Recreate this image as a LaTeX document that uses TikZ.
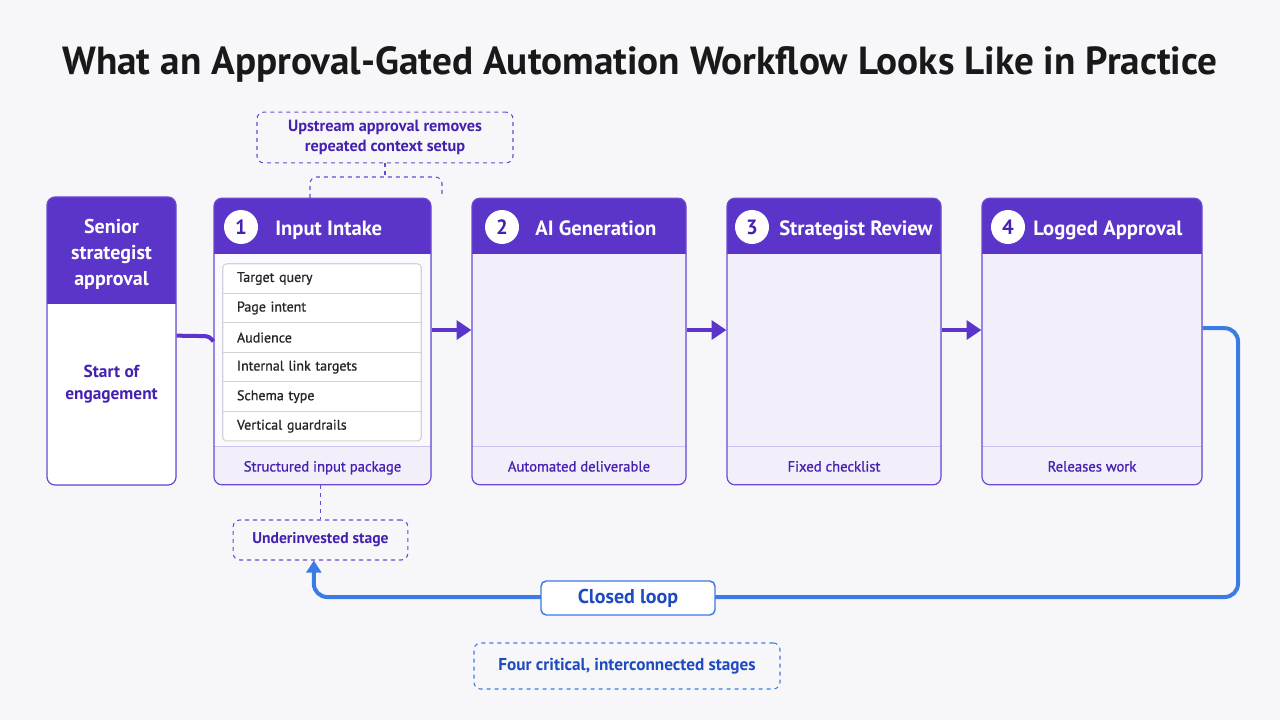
\documentclass[tikz,border=0pt]{standalone}
\usepackage{fontspec}
\setmainfont{PT Sans}
\newfontfamily\medfont[FakeBold=0.9]{PT Sans}
\usepackage{tikz}
\usetikzlibrary{arrows.meta, positioning, fit, backgrounds}

\definecolor{bgc}{HTML}{F7F7FA}
\definecolor{purp}{HTML}{5B34C9}
\definecolor{purpdk}{HTML}{4521B0}
\definecolor{purpln}{HTML}{6B48D2}
\definecolor{lav}{HTML}{F2EFFB}
\definecolor{lavln}{HTML}{CDC2F0}
\definecolor{loopblue}{HTML}{3A7BE5}
\definecolor{bluedk}{HTML}{1E4BC2}
\definecolor{rowln}{HTML}{D2D2DA}

\begin{document}
\begin{tikzpicture}[
    x=0.75pt, y=-0.75pt,
    >=Stealth,
    font=\fontsize{11}{13}\selectfont,
    ttl/.style={font=\bfseries\fontsize{29.4}{32}\selectfont, text=black!90},
    stagebox/.style 2 args={rectangle, rounded corners=6pt, draw=purpln,
              line width=0.9pt, fill=purp, inner sep=0pt, minimum height=215pt,
              path picture={
                \fill[#2, sharp corners] ([yshift=-#1]path picture bounding box.north west)
                    rectangle ([yshift=28.5pt]path picture bounding box.south east);
                \fill[lav, sharp corners] ([yshift=28.5pt]path picture bounding box.south west)
                    rectangle (path picture bounding box.south east);
                \draw[lavln, line width=0.8pt]
                    ([yshift=28.5pt]path picture bounding box.south west)
                    -- ([yshift=28.5pt]path picture bounding box.south east);}},
    senbox/.style={rectangle, rounded corners=6pt, draw=purpln,
              line width=0.9pt, fill=purp, inner sep=0pt,
              minimum width=96.75pt, minimum height=216pt,
              path picture={
                \fill[white, sharp corners] ([yshift=-80pt]path picture bounding box.north west)
                    rectangle (path picture bounding box.south east);}},
    num/.style={circle, fill=white, minimum size=25.5pt, inner sep=0pt,
              font=\bfseries\fontsize{15.5}{15.5}\selectfont, text=purpdk},
    hdr/.style={anchor=base west, inner sep=0pt, text=white,
              font=\bfseries\fontsize{15.5}{17}\selectfont},
    foot/.style={anchor=base, inner sep=0pt, text=purpdk,
              font=\medfont\fontsize{11}{13}\selectfont},
    row/.style={rectangle, fill=white, minimum height=21.75pt, inner xsep=10.5pt,
              inner ysep=0pt, text width=127.5pt, align=left, text=black!85,
              font=\medfont\fontsize{10.5}{12}\selectfont},
    note/.style={rectangle, rounded corners=5pt, draw=purpln, dashed,
              line width=0.8pt, align=center, text=purpdk,
              font=\bfseries\fontsize{12.2}{15}\selectfont},
    flow/.style={-{Triangle[length=11pt,width=14pt]}, draw=purp, line width=3pt},
    dashlink/.style={draw=purpln, dashed, line width=0.8pt},
    loopln/.style={-{Triangle[length=9pt,width=11pt]}, draw=loopblue,
              line width=3pt, rounded corners=10pt},
]
    % canvas
    \fill[bgc] (0,0) rectangle (1280,720);
    \useasboundingbox (0,0) rectangle (1280,720);

    % Title
    \node[ttl] (title) at (640,64)
        {What an Approval-Gated Automation Workflow Looks Like in Practice};

    % Start box
    \node[senbox] (sen) at (111.5,341) {};
    \node[text=white, align=center, font=\bfseries\fontsize{15}{19.5}\selectfont]
        (senT) at (111.5,254) {Senior\\strategist\\approval};
    \node[text=purpdk, align=center, font=\bfseries\fontsize{13}{17}\selectfont]
        (senB) at (111.5,384) {Start of\\engagement};

    % Stage boxes
    \node[stagebox={42pt}{white!60!lav}, minimum width=162.75pt] (st1) at (322.5,341.5) {};
    \node[stagebox={42pt}{lav}, minimum width=160.5pt] (st2) at (579,341.5) {};
    \node[stagebox={42pt}{lav}, minimum width=160.5pt] (st3) at (834,341.5) {};
    \node[stagebox={42pt}{lav}, minimum width=165pt] (st4) at (1092,341.5) {};

    % Headers
    \node[num] (n1) at (241,227) {1};
    \node[hdr] (h1) at (275,235) {Input Intake};
    \node[num] (n2) at (502,227) {2};
    \node[hdr] (h2) at (535,235) {AI Generation};
    \node[num] (n3) at (752,227) {3};
    \node[hdr] (h3) at (779,235) {Strategist Review};
    \node[num] (n4) at (1008,227) {4};
    \node[hdr] (h4) at (1033,235) {Logged Approval};

    % Input list
    \node[row] (r1) at (322,278.5) {Target query};
    \node[row, below=0pt of r1] (r2) {Page intent};
    \node[row, below=0pt of r2] (r3) {Audience};
    \node[row, below=0pt of r3] (r4) {Internal link targets};
    \node[row, below=0pt of r4] (r5) {Schema type};
    \node[row, below=0pt of r5] (r6) {Vertical guardrails};
    \foreach \r in {r1,r2,r3,r4,r5}
        \draw[rowln, line width=0.8pt] (\r.south west) -- (\r.south east);
    \node[draw=rowln, line width=0.8pt, rounded corners=3pt, inner sep=0pt,
          fit=(r1)(r6)] (lst) {};

    % Footers
    \node[foot] (f1) at (322.5,471.5) {Structured input package};
    \node[foot] (f2) at (579,471.5) {Automated deliverable};
    \node[foot] (f3) at (834,471.5) {Fixed checklist};
    \node[foot] (f4) at (1092,471.5) {Releases work};

    % Flow
    \draw[draw=purp, line width=3pt, rounded corners=3pt]
        ([yshift=4pt]sen.east) -- ([xshift=-3pt,yshift=4pt]st1.west) -- (st1.west);
    \draw[flow] ([yshift=8.6pt]st1.east) -- ([yshift=8.6pt]st2.west);
    \draw[flow] ([yshift=8.6pt]st2.east) -- ([yshift=8.6pt]st3.west);
    \draw[flow] ([yshift=8.6pt]st3.east) -- ([yshift=8.6pt]st4.west);

    % Callouts
    \node[note, minimum width=192pt, minimum height=38pt] (up) at (385,137.5)
        {Upstream approval removes\\repeated context setup};
    \coordinate (brL) at (310,198);
    \coordinate (brR) at (442,198);
    \draw[dashlink] (up.south) -- (385,177);
    \draw[dashlink, rounded corners=5pt] (brL) -- (310,177) -- (442,177) -- (brR);

    \node[note, font=\bfseries\fontsize{11.7}{13}\selectfont,
          minimum width=131pt, minimum height=30pt] (under) at (320.5,540)
        {Underinvested stage};
    \draw[dashlink] (under.north |- st1.south) -- (under.north);

    % Closed loop
    \coordinate (lpR) at (1238,597);
    \draw[loopln] ([yshift=10pt]st4.east) -| (lpR) -| ([xshift=-5pt]under.south);
    \node[draw=loopblue, fill=white, line width=1.1pt, rounded corners=4pt,
          minimum width=130.5pt, minimum height=25.5pt, text=bluedk,
          font=\bfseries\fontsize{15}{17}\selectfont] (loop) at (628,598) {Closed loop};

    \node[draw=loopblue, dashed, line width=0.8pt, rounded corners=5pt,
          minimum width=229.5pt, minimum height=34.5pt, text=bluedk,
          font=\bfseries\fontsize{12.9}{14}\selectfont] (four) at (627,666)
        {Four critical, interconnected stages};
\end{tikzpicture}
\end{document}
